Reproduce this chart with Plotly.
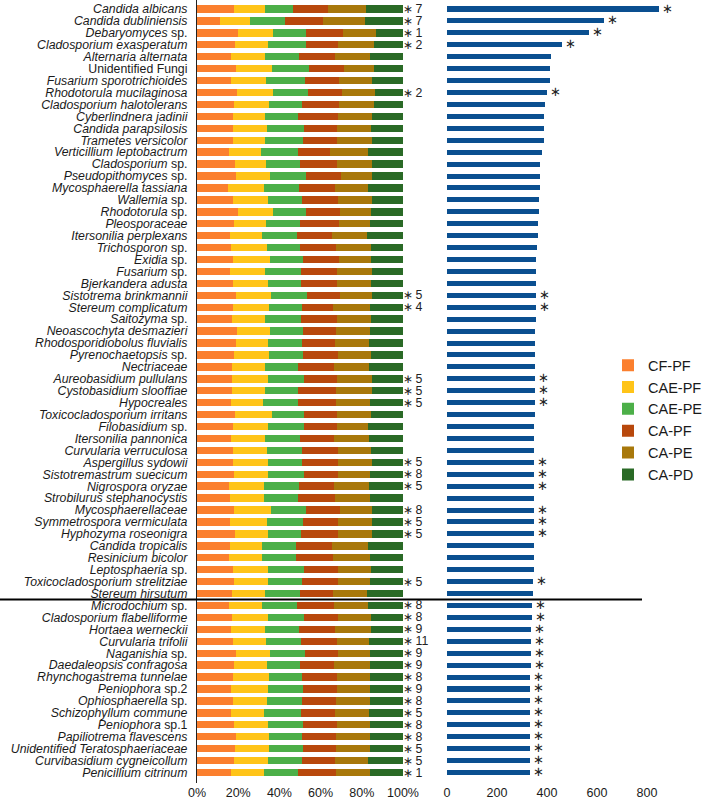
import plotly.graph_objects as go

taxa = [
    "<i>Candida albicans</i>", "<i>Candida dubliniensis</i>", "<i>Debaryomyces</i> sp.",
    "<i>Cladosporium exasperatum</i>", "<i>Alternaria alternata</i>", "Unidentified Fungi",
    "<i>Fusarium sporotrichioides</i>", "<i>Rhodotorula mucilaginosa</i>", "<i>Cladosporium halotolerans</i>",
    "<i>Cyberlindnera jadinii</i>", "<i>Candida parapsilosis</i>", "<i>Trametes versicolor</i>",
    "<i>Verticillium leptobactrum</i>", "<i>Cladosporium</i> sp.", "<i>Pseudopithomyces</i> sp.",
    "<i>Mycosphaerella tassiana</i>", "<i>Wallemia</i> sp.", "<i>Rhodotorula</i> sp.",
    "<i>Pleosporaceae</i>", "<i>Itersonilia perplexans</i>", "<i>Trichosporon</i> sp.",
    "<i>Exidia</i> sp.", "<i>Fusarium</i> sp.", "<i>Bjerkandera adusta</i>",
    "<i>Sistotrema brinkmannii</i>", "<i>Stereum complicatum</i>", "<i>Saitozyma</i> sp.",
    "<i>Neoascochyta desmazieri</i>", "<i>Rhodosporidiobolus fluvialis</i>", "<i>Pyrenochaetopsis</i> sp.",
    "<i>Nectriaceae</i>", "<i>Aureobasidium pullulans</i>", "<i>Cystobasidium slooffiae</i>",
    "<i>Hypocreales</i>", "<i>Toxicocladosporium irritans</i>", "<i>Filobasidium</i> sp.",
    "<i>Itersonilia pannonica</i>", "<i>Curvularia verruculosa</i>", "<i>Aspergillus sydowii</i>",
    "<i>Sistotremastrum suecicum</i>", "<i>Nigrospora oryzae</i>", "<i>Strobilurus stephanocystis</i>",
    "<i>Mycosphaerellaceae</i>", "<i>Symmetrospora vermiculata</i>", "<i>Hyphozyma roseonigra</i>",
    "<i>Candida tropicalis</i>", "<i>Resinicium bicolor</i>", "<i>Leptosphaeria</i> sp.",
    "<i>Toxicocladosporium strelitziae</i>", "<i>Stereum hirsutum</i>", "<i>Microdochium</i> sp.",
    "<i>Cladosporium flabelliforme</i>", "<i>Hortaea werneckii</i>", "<i>Curvularia trifolii</i>",
    "<i>Naganishia</i> sp.", "<i>Daedaleopsis confragosa</i>", "<i>Rhynchogastrema tunnelae</i>",
    "<i>Peniophora</i> sp.2", "<i>Ophiosphaerella</i> sp.", "<i>Schizophyllum commune</i>",
    "<i>Peniophora</i> sp.1", "<i>Papiliotrema flavescens</i>", "<i>Unidentified Teratosphaeriaceae</i>",
    "<i>Curvibasidium cygneicollum</i>", "<i>Penicillium citrinum</i>",
]

series_names = ["CF-PF", "CAE-PF", "CAE-PE", "CA-PF", "CA-PE", "CA-PD"]

cf_pf = [17.8, 11.3, 19.7, 18.3, 16.3, 18.8, 16.5, 19.4, 18.0, 17.6, 17.5, 17.5, 15.5, 18.3, 18.8, 15.2,
         17.5, 19.9, 18.1, 15.9, 16.5, 17.5, 16.2, 17.6, 19.1, 17.6, 17.2, 19.3, 18.8, 18.1, 16.8, 16.8,
         17.0, 16.3, 18.4, 17.5, 16.3, 17.5, 17.5, 18.0, 15.4, 16.0, 17.8, 16.2, 18.3, 16.0, 15.5, 17.5,
         18.0, 16.8, 15.7, 16.8, 16.3, 17.6, 18.8, 17.8, 17.6, 16.5, 17.6, 16.3, 18.1, 18.8, 18.6, 18.1, 16.3]
cae_pf = [15.4, 14.4, 17.2, 16.0, 16.5, 17.4, 17.0, 17.7, 16.8, 15.2, 16.3, 15.5, 15.4, 15.2, 16.8, 17.3,
          17.0, 17.0, 15.6, 15.7, 17.6, 18.1, 17.0, 16.7, 17.0, 17.2, 15.8, 16.3, 15.8, 17.0, 16.0, 17.5,
          16.0, 15.6, 17.8, 17.0, 16.9, 16.6, 17.1, 16.6, 17.0, 16.4, 18.1, 17.6, 16.0, 15.6, 16.1, 17.1,
          16.6, 16.2, 16.0, 17.7, 16.7, 15.9, 16.8, 16.0, 17.4, 18.1, 16.2, 16.2, 16.2, 16.2, 16.4, 16.2, 16.2]
cae_pe = [13.2, 16.9, 16.2, 18.8, 16.9, 18.0, 18.9, 16.9, 16.2, 16.1, 18.0, 18.6, 18.0, 16.7, 17.2, 17.2,
          16.3, 16.2, 16.3, 16.9, 15.7, 15.9, 17.1, 16.0, 17.3, 16.0, 17.3, 16.0, 16.2, 16.5, 16.1, 17.5,
          15.9, 17.0, 15.6, 17.3, 16.8, 16.7, 16.2, 17.2, 17.1, 16.5, 16.9, 17.5, 16.2, 16.3, 16.5, 17.2,
          16.5, 16.8, 16.8, 17.3, 16.5, 17.0, 16.7, 16.0, 15.8, 17.0, 17.3, 18.0, 17.3, 16.0, 16.3, 16.5, 16.5]
ca_pf = [17.0, 18.4, 17.6, 15.2, 17.1, 17.0, 16.7, 16.2, 18.1, 19.4, 16.3, 16.2, 15.8, 17.6, 17.1, 17.1,
         17.5, 16.3, 18.8, 16.9, 17.7, 17.3, 17.5, 17.5, 15.9, 15.2, 17.8, 16.0, 16.4, 17.0, 17.4, 16.3,
         18.4, 18.4, 16.3, 16.2, 16.7, 17.8, 17.5, 16.5, 16.8, 17.9, 16.6, 17.3, 17.8, 17.8, 17.8, 16.8,
         17.2, 16.4, 18.2, 16.6, 17.5, 17.5, 16.0, 16.9, 17.2, 16.2, 16.2, 16.3, 16.2, 16.3, 16.0, 16.2, 18.3]
ca_pe = [18.5, 20.4, 16.0, 17.5, 17.2, 14.6, 15.7, 16.0, 16.8, 16.8, 16.4, 17.0, 18.1, 17.0, 14.9, 16.0,
         16.5, 15.2, 15.3, 17.1, 16.8, 15.5, 17.0, 16.8, 15.7, 17.8, 16.2, 16.5, 16.5, 15.7, 17.4, 16.7,
         17.5, 16.5, 16.2, 15.2, 16.6, 15.7, 16.5, 15.8, 17.0, 17.0, 15.4, 16.2, 16.5, 17.1, 18.1, 15.7,
         15.5, 16.5, 16.5, 15.9, 17.3, 15.3, 15.8, 17.1, 15.8, 16.0, 16.5, 16.7, 16.0, 16.5, 16.5, 16.2, 16.5]
ca_pd = [18.1, 18.6, 13.3, 14.2, 16.0, 14.2, 15.2, 13.8, 14.1, 14.9, 15.5, 15.2, 17.2, 15.2, 15.2, 17.2,
         15.2, 15.4, 15.9, 17.5, 15.7, 15.7, 15.2, 15.4, 15.0, 16.2, 15.7, 15.9, 16.3, 15.7, 16.3, 15.2,
         15.2, 16.2, 15.7, 16.8, 16.7, 15.7, 15.2, 15.9, 16.7, 16.2, 15.2, 15.2, 15.2, 17.2, 16.0, 15.7,
         16.2, 17.3, 16.8, 15.7, 15.7, 16.7, 15.9, 16.2, 16.2, 16.2, 16.2, 16.5, 16.2, 16.2, 16.2, 16.8, 16.2]

abundance = [849, 629, 568, 461, 415, 413, 413, 400, 392, 388, 388, 388, 380, 372, 372, 372,
             367, 367, 364, 364, 360, 357, 357, 357, 355, 354, 354, 353, 353, 352, 352, 351,
             351, 350, 350, 349, 349, 349, 348, 348, 348, 347, 347, 347, 347, 346, 346, 346,
             345, 343, 340, 339, 336, 336, 334, 334, 333, 333, 333, 333, 332, 332, 331, 331, 330]

sig_counts = [7, 7, 1, 2, None, None, None, 2, None, None, None, None, None, None, None, None,
              None, None, None, None, None, None, None, None, 5, 4, None, None, None, None, None, 5,
              5, 5, None, None, None, None, 5, 8, 5, None, 8, 5, 5, None, None, None,
              5, None, 8, 8, 9, 11, 9, 9, 8, 9, 8, 5, 8, 8, 5, 5, 1]

pct_ticks = [0, 20, 40, 60, 80, 100]
abund_ticks = [0, 200, 400, 600, 800]

colors = ["#FB7F2E", "#FFC418", "#4CAF48", "#B8480C", "#A8780B", "#2A6A26"]
blue = "#0A4F90"
FONT = "Liberation Sans, Arial, sans-serif"
W, H = 705, 801

fig = go.Figure()
series = [cf_pf, cae_pf, cae_pe, ca_pf, ca_pe, ca_pd]
tot = [sum(s[i] for s in series) for i in range(len(taxa))]
for name, vals, col in zip(series_names, series, colors):
    fig.add_trace(go.Bar(
        y=taxa, x=[v / t * 100 for v, t in zip(vals, tot)], orientation="h", name=name,
        marker=dict(color=col, line=dict(width=0)), xaxis="x", yaxis="y",
        legendgroup=name, hoverinfo="x+y+name"))

fig.add_trace(go.Bar(
    y=taxa, x=abundance, orientation="h", marker=dict(color=blue, line=dict(width=0)),
    xaxis="x2", yaxis="y2", showlegend=False, width=0.42))

annotations = []
for lab, n, v in zip(taxa, sig_counts, abundance):
    if n is None:
        continue
    annotations.append(dict(x=100, y=lab, xref="x", yref="y", text="∗\u2009" + str(n),
                            showarrow=False, xanchor="left", xshift=-2,
                            font=dict(family=FONT, size=12.3, color="#222")))
    annotations.append(dict(x=v, y=lab, xref="x2", yref="y2", text="∗",
                            showarrow=False, xanchor="left", xshift=1, yshift=1,
                            font=dict(family=FONT, size=13, color="#222")))

fig.update_layout(
    width=W, height=H, barmode="stack", bargap=0.38,
    margin=dict(l=0, r=0, t=0, b=18, autoexpand=False),
    paper_bgcolor="white", plot_bgcolor="white",
    font=dict(family=FONT, size=12.3, color="#1a1a1a"),
    xaxis=dict(domain=[197 / W, 403 / W], range=[0, 100], tickvals=pct_ticks,
               ticktext=[f"{t}%" for t in pct_ticks], showgrid=False, zeroline=False,
               showline=False, ticks="", tickfont=dict(size=12.5), fixedrange=True),
    xaxis2=dict(domain=[447 / W, 667 / W], range=[0, 880], tickvals=abund_ticks,
                showgrid=False, zeroline=False, showline=False, ticks="",
                tickfont=dict(size=12.5), anchor="y2"),
    yaxis=dict(autorange="reversed", showgrid=False, zeroline=False, showline=True,
               linecolor="#222", linewidth=1.2, ticks="", tickfont=dict(size=12.3),
               tickmode="array", tickvals=taxa, ticktext=taxa,
               ticklabelstandoff=6, automargin=False, categoryorder="array",
               categoryarray=taxa),
    yaxis2=dict(autorange="reversed", showgrid=False, zeroline=False, showline=False,
                showticklabels=False, ticks="", matches="y", anchor="x2",
                categoryorder="array", categoryarray=taxa),
    legend=dict(x=608 / W, y=0.554, xanchor="left", yanchor="top", traceorder="normal",
                font=dict(size=14.5, color="#1a1a1a"), tracegroupgap=3,
                itemwidth=30, bgcolor="rgba(0,0,0,0)"),
    annotations=annotations,
    shapes=[dict(type="line", xref="paper", yref="y", x0=0, x1=642 / W, y0=49.5, y1=49.5,
                 line=dict(color="black", width=2))],
)

fig.write_html("out.html", config={"displayModeBar": False},
               post_script="document.body.style.margin='0px';")
